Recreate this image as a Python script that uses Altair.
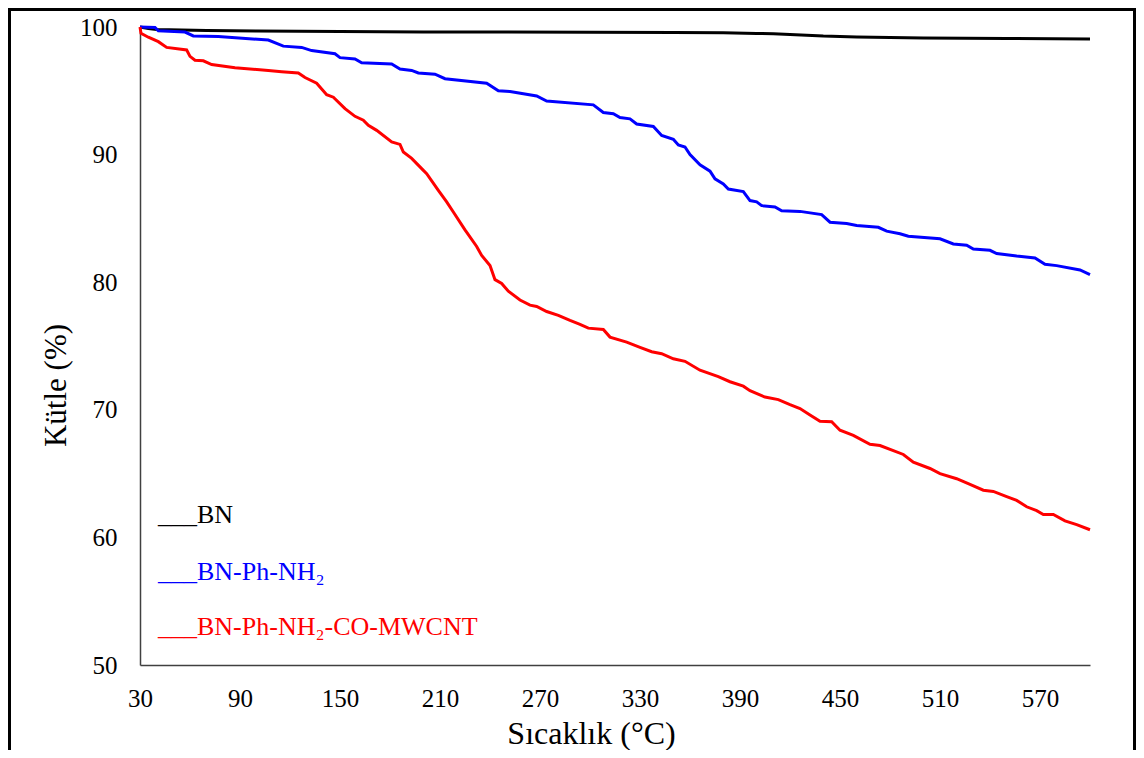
import altair as alt
import pandas as pd

# ---- data ----
bn_t = [30, 35, 40, 70, 100, 150, 200, 250, 300, 350, 380, 400, 410, 420, 430, 440, 450, 460, 480, 500, 550, 600]
bn_m = [100, 99.88, 99.8, 99.73, 99.69, 99.65, 99.61, 99.61, 99.58, 99.57, 99.55, 99.5, 99.47, 99.41, 99.35,
        99.29, 99.26, 99.22, 99.18, 99.14, 99.1, 99.06]

nh2_t = [30, 39, 41, 57, 62, 77, 107, 116, 127, 133, 147, 150, 159, 163, 181, 186, 193, 197, 207, 213, 238, 245,
         252, 268, 274, 302, 308, 314, 318, 324, 328, 338, 343, 350, 353, 357, 360, 366, 372, 375, 380, 383, 392,
         396, 400, 403, 411, 415, 426, 439, 444, 454, 460, 473, 478, 486, 491, 510, 518, 526, 530, 540, 544, 556,
         567, 573, 580, 594, 600]
nh2_m = [100, 99.96, 99.7, 99.6, 99.3, 99.25, 98.98, 98.5, 98.4, 98.15, 97.9, 97.6, 97.5, 97.2, 97.1, 96.7, 96.6,
         96.4, 96.3, 95.95, 95.6, 95.0, 94.94, 94.6, 94.2, 93.9, 93.3, 93.2, 92.9, 92.8, 92.4, 92.2, 91.5, 91.2,
         90.75, 90.6, 90.0, 89.2, 88.7, 88.1, 87.7, 87.3, 87.1, 86.4, 86.3, 86.0, 85.9, 85.6, 85.55, 85.3, 84.7,
         84.6, 84.45, 84.3, 84.0, 83.8, 83.6, 83.4, 83.0, 82.9, 82.6, 82.5, 82.25, 82.05, 81.9, 81.4, 81.3, 80.96,
         80.6]

cnt_t = [30, 30.6, 35, 41, 46, 58, 60, 63, 68, 73, 87, 107, 115, 125, 129, 136, 142, 146, 153, 159, 164, 167, 172,
         181, 186, 188, 193, 199, 202, 209, 214, 218, 225, 232, 235, 240, 243, 247, 251, 258, 264, 268, 274, 281,
         288, 294, 299, 308, 312, 322, 330, 337, 343, 350, 357, 366, 377, 384, 392, 396, 405, 413, 420, 426, 432,
         438, 445, 450, 458, 468, 474, 482, 488, 494, 504, 510, 520, 528, 536, 542, 550, 556, 562, 568, 572, 578,
         585, 592, 600]
cnt_m = [100, 99.5, 99.2, 98.85, 98.4, 98.2, 97.7, 97.4, 97.35, 97.06, 96.8, 96.6, 96.5, 96.4, 96.04, 95.6, 94.7,
         94.5, 93.6, 93.0, 92.7, 92.3, 91.9, 91.0, 90.8, 90.2, 89.7, 88.9, 88.5, 87.2, 86.3, 85.5, 84.1, 82.8, 82.1,
         81.3, 80.2, 79.9, 79.3, 78.6, 78.2, 78.1, 77.7, 77.4, 77.0, 76.7, 76.4, 76.3, 75.7, 75.3, 74.9, 74.55,
         74.4, 74.0, 73.8, 73.1, 72.6, 72.2, 71.85, 71.5, 71.0, 70.8, 70.4, 70.1, 69.6, 69.1, 69.07, 68.4, 68.0,
         67.3, 67.2, 66.8, 66.5, 65.9, 65.4, 65.0, 64.6, 64.15, 63.7, 63.6, 63.2, 62.9, 62.4, 62.1, 61.8, 61.8,
         61.3, 61.0, 60.6]

series_names = ["BN", "BN-Ph-NH\u2082", "BN-Ph-NH\u2082-CO-MWCNT"]
series_colors = ["#000000", "#0000FF", "#FF0000"]
x_ticks = [30, 90, 150, 210, 270, 330, 390, 450, 510, 570]
y_ticks = [50, 60, 70, 80, 90, 100]

FONT = "Liberation Serif"

frames = []
for name, t, m in [(series_names[0], bn_t, bn_m), (series_names[1], nh2_t, nh2_m), (series_names[2], cnt_t, cnt_m)]:
    frames.append(pd.DataFrame({"T": t, "M": m, "series": name, "k": len(frames)}))
df = pd.concat(frames, ignore_index=True)

x_scale = alt.Scale(domain=[30, 600], nice=False, zero=False)
y_scale = alt.Scale(domain=[50, 100], nice=False, zero=False)
color_scale = alt.Scale(domain=series_names, range=series_colors)

x_axis = alt.Axis(title="Sıcaklık (°C)", values=x_ticks, grid=False, ticks=False,
                  labelFont=FONT, labelFontSize=25, labelColor="#000000", labelBaseline="alphabetic",
                  labelPadding=41, labelFlush=False, labelOverlap=False,
                  titleFont=FONT, titleFontSize=32, titleFontWeight="normal", titleColor="#000000",
                  titleX=451, titleY=78, titleBaseline="alphabetic",
                  domainColor="#404040", domainWidth=1.5)
y_axis = alt.Axis(title="Kütle (%)", values=y_ticks, grid=False, ticks=False,
                  labelFont=FONT, labelFontSize=25, labelColor="#000000", labelPadding=23,
                  labelFlush=False, labelOverlap=False,
                  titleFont=FONT, titleFontSize=31, titleFontWeight="normal", titleColor="#000000",
                  titleX=-84, titleY=358, titleBaseline="middle", titleAngle=-90,
                  domainColor="#404040", domainWidth=1.5)

lines = alt.Chart(df).mark_line(strokeWidth=3, interpolate="linear").encode(
    x=alt.X("T:Q", scale=x_scale, axis=x_axis),
    y=alt.Y("M:Q", scale=y_scale, axis=y_axis),
    color=alt.Color("series:N", scale=color_scale, legend=None),
    detail="k:N",
    order=alt.Order("T:Q"),
)

# in-plot legend text
legend_df = pd.DataFrame({"label": ["___" + s for s in series_names],
                          "series": series_names,
                          "ypx": [496, 553, 608]})
legend = alt.Chart(legend_df).mark_text(align="left", baseline="alphabetic", font=FONT, fontSize=26).encode(
    x=alt.value(18),
    y=alt.Y("ypx:Q", scale=None, axis=None),
    text="label:N",
    color=alt.Color("series:N", scale=color_scale, legend=None),
)

# outer frame (left, top, right)
one = pd.DataFrame({"a": [0]})
frame_left = alt.Chart(one).mark_rule(color="#000000", strokeWidth=3).encode(
    x=alt.value(-130.5), y=alt.value(-19), y2=alt.value(740))
frame_top = alt.Chart(one).mark_rule(color="#000000", strokeWidth=3).encode(
    x=alt.value(-132), x2=alt.value(996), y=alt.value(-17.5))
frame_right = alt.Chart(one).mark_rule(color="#000000", strokeWidth=3).encode(
    x=alt.value(994.5), y=alt.value(-19), y2=alt.value(740))

chart = alt.layer(lines, legend, frame_left, frame_top, frame_right).properties(
    width=950, height=638,
    autosize=alt.AutoSizeParams(type="none"),
    padding={"left": 132, "top": 19, "right": 46, "bottom": 85},
    background="#FFFFFF",
).resolve_scale(y="independent").configure_view(strokeWidth=0)

chart.save("out.html", embed_options={"renderer": "svg", "actions": False})
